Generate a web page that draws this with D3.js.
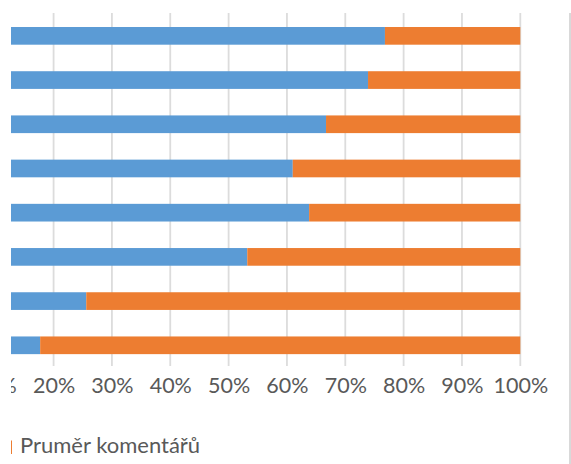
<!DOCTYPE html>
<html lang="cs">
<head>
    <meta charset="UTF-8">
    <title>Podíl komentářů</title>
    <style>
        body {
            margin: 0;
            background: #fff;
            font-family: Lato, "Open Sans", sans-serif;
        }
        .tick text {
            fill: #595959;
            font: 21.5px Lato, sans-serif;
        }
        .legend text {
            fill: #595959;
            font: 22px Lato, sans-serif;
        }
    </style>
</head>
<body>
    <script src="https://d3js.org/d3.v7.min.js"></script>
    <script>
        // values, share of 100 %
        const categories = ["1", "2", "3", "4", "5", "6", "7", "8"];
        const blueShare = [76.8, 73.9, 66.7, 61.0, 63.8, 53.2, 25.6, 17.7];
        const orangeShare = [23.2, 26.1, 33.3, 39.0, 36.2, 46.8, 74.4, 82.3];
        const tickValues = [0, 10, 20, 30, 40, 50, 60, 70, 80, 90, 100];
        const legendName = "Pruměr komentářů";

        const width = 571;
        const height = 464;

        const svg = d3.select("body")
            .append("svg")
            .attr("width", width)
            .attr("height", height);

        // the picture is cut at the left edge
        svg.append("clipPath")
            .attr("id", "cut")
            .append("rect")
            .attr("x", 11)
            .attr("y", 0)
            .attr("width", width - 11)
            .attr("height", height);

        const chart = svg.append("g").attr("clip-path", "url(#cut)");

        const x = d3.scaleLinear()
            .domain([0, 100])
            .range([-63.1, 520.3]);

        const y = d3.scaleBand()
            .domain(categories)
            .range([13.75, 367.4])
            .paddingInner(0.6)
            .paddingOuter(0.3);

        // gridlines
        chart.append("g")
            .selectAll("line")
            .data(tickValues)
            .join("line")
            .attr("x1", d => x(d))
            .attr("x2", d => x(d))
            .attr("y1", 13)
            .attr("y2", 366)
            .attr("stroke", "#dcdcdc")
            .attr("stroke-width", 1.8);

        const rows = categories.map((c, i) => ({ c, blue: blueShare[i], orange: orangeShare[i] }));

        const stack = d3.stack().keys(["blue", "orange"]);
        const colors = { blue: "#5b9bd5", orange: "#ed7d31" };

        chart.append("g")
            .selectAll("g")
            .data(stack(rows))
            .join("g")
            .attr("fill", d => colors[d.key])
            .selectAll("rect")
            .data(d => d)
            .join("rect")
            .attr("x", d => x(d[0]))
            .attr("y", d => y(d.data.c))
            .attr("width", d => x(d[1]) - x(d[0]))
            .attr("height", y.bandwidth());

        // axis labels, no line, no ticks
        const xAxis = d3.axisBottom(x)
            .tickValues(tickValues)
            .tickFormat(d => d + "%")
            .tickSize(0)
            .tickPadding(0);

        const ax = chart.append("g")
            .attr("transform", "translate(0,393)")
            .call(xAxis);
        ax.select(".domain").remove();
        ax.selectAll("text").attr("dy", 0);

        // legend, only the part left inside the picture
        const legend = chart.append("g").attr("class", "legend");
        legend.append("rect")
            .attr("x", -1)
            .attr("y", 440.5)
            .attr("width", 13)
            .attr("height", 13.5)
            .attr("fill", colors.orange);
        legend.append("text")
            .attr("x", 20)
            .attr("y", 453)
            .text(legendName);

        // right frame edge
        svg.append("line")
            .attr("x1", 570)
            .attr("x2", 570)
            .attr("y1", 13)
            .attr("y2", height)
            .attr("stroke", "#d9d9d9")
            .attr("stroke-width", 2);
    </script>
</body>
</html>
